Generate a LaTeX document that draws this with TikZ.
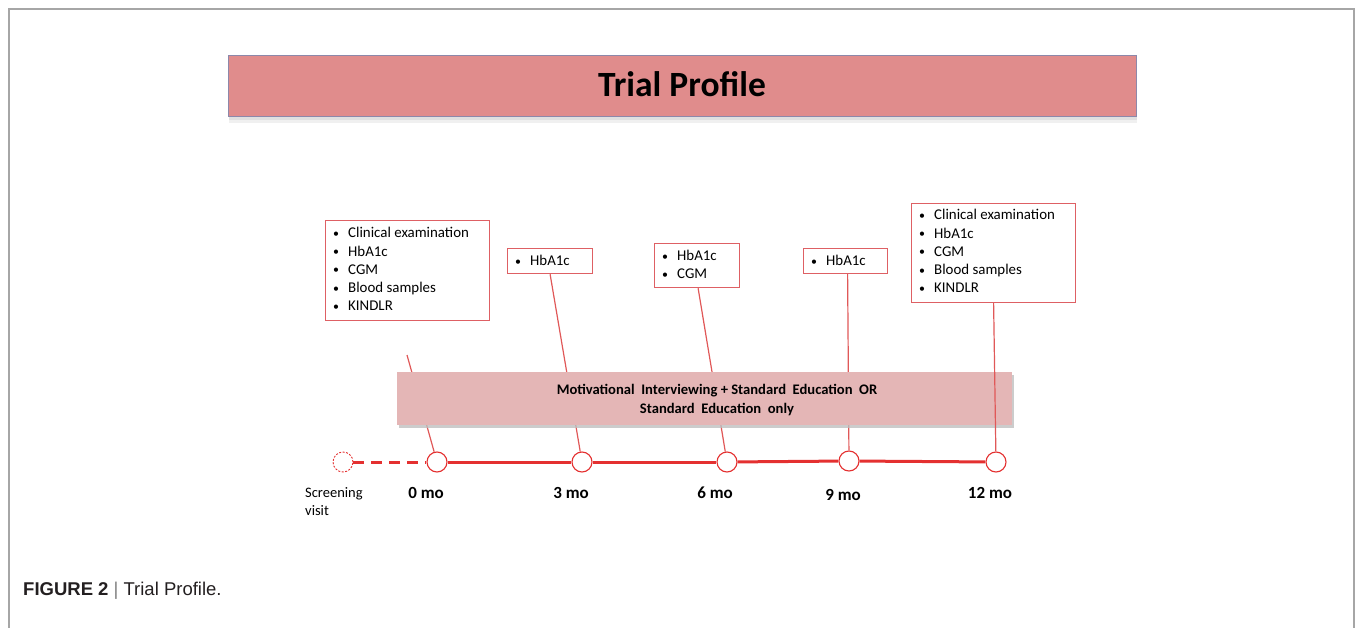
\documentclass[tikz,border=0pt]{standalone}
\usepackage{fontspec}
\usepackage{graphicx}
\setmainfont{Carlito}
\newfontfamily\capfont{Liberation Sans}
\usetikzlibrary{shadows}
\definecolor{tlred}{RGB}{228,48,48}
\definecolor{cnred}{RGB}{224,88,88}
\definecolor{bxred}{RGB}{222,96,100}
\definecolor{titlefill}{RGB}{224,140,140}
\definecolor{titleedge}{RGB}{140,136,170}
\definecolor{bandfill}{RGB}{228,182,182}
\definecolor{framegray}{RGB}{166,166,166}
\definecolor{captxt}{RGB}{35,31,32}
\newcommand{\bitem}[1]{\makebox[15pt][l]{\raisebox{0.5pt}{\scalebox{0.8}{\textbullet}}}#1}
\tikzset{
  listbox/.style={draw=bxred, line width=1.2pt, fill=white, anchor=north west, inner sep=0pt},
  listtxt/.style={anchor=base west, align=left, inner sep=0pt, font=\fontsize{14.9}{18.3}\selectfont},
  visit/.style={circle, draw=tlred, line width=1.1pt, fill=white, minimum size=20pt, inner sep=0pt},
  tline/.style={draw=tlred, line width=3pt},
  conn/.style={draw=cnred, line width=1.2pt},
  molabel/.style={anchor=base, inner sep=0pt, font=\fontsize{17}{20}\selectfont\bfseries},
}
\begin{document}
\begin{tikzpicture}[x=1pt,y=-1pt]
\useasboundingbox (0,0) rectangle (1357,628);
% frame
\draw[framegray, line width=1.5pt] (9,628) -- (9,9) -- (1354,9) -- (1354,628);
% title bar
\fill[black!12] (229,114) rectangle (1137,120);
\fill[black!6] (229,120) rectangle (1137,123);
\node[draw=titleedge, fill=titlefill, line width=1pt, minimum width=908pt, minimum height=61pt, anchor=north west, inner sep=0pt] (title) at (228,55) {};
\node[anchor=base, inner sep=0pt, font=\fontsize{35.5}{40}\selectfont\bfseries] (titletxt) at (682,97) {Trial Profile};
% boxes (base anchor = last line baseline)
\node[listbox, minimum width=164pt, minimum height=100pt] (b0) at (325,220) {};
\node[listtxt] (b0t) at (333,311) {\bitem{Clinical examination}\\\bitem{HbA1c}\\\bitem{CGM}\\\bitem{Blood samples}\\\bitem{KINDLR}};
\node[listbox, minimum width=85pt, minimum height=25pt] (b3) at (507,248) {};
\node[listtxt] (b3t) at (515,266) {\bitem{HbA1c}};
\node[listbox, minimum width=85pt, minimum height=44pt] (b6) at (654,243) {};
\node[listtxt] (b6t) at (662,279) {\bitem{HbA1c}\\\bitem{CGM}};
\node[listbox, minimum width=84pt, minimum height=25pt] (b9) at (803,248) {};
\node[listtxt] (b9t) at (811,266) {\bitem{HbA1c}};
\node[listbox, minimum width=164pt, minimum height=99pt] (b12) at (911,203) {};
\node[listtxt] (b12t) at (919,293) {\bitem{Clinical examination}\\\bitem{HbA1c}\\\bitem{CGM}\\\bitem{Blood samples}\\\bitem{KINDLR}};
% visits
\node[visit, dashed, dash pattern=on 2pt off 1.5pt, line width=0.9pt] (scr) at (343,462) {};
\node[visit] (c0) at (437,462) {};
\node[visit] (c3) at (582,462) {};
\node[visit] (c6) at (727,462) {};
\node[visit] (c9) at (849,461) {};
\node[visit] (c12) at (996,462) {};
% timeline
\draw[tline, dash pattern=on 11pt off 7pt] (scr) -- (c0);
\draw[tline] (c0) -- (c3);
\draw[tline] (c3) -- (c6);
\draw[tline] (c6) -- (c9);
\draw[tline] (c9) -- (c12);
% connectors behind band
\coordinate (s0) at (407,355);
\draw[conn] (s0) -- (c0);
\draw[conn] (b3.south) -- (c3);
\draw[conn] ([xshift=1pt]b6.south) -- (c6);
\draw[conn] ([xshift=2pt]b9.south) -- (c9);
% band
\node[fill=bandfill, minimum width=615pt, minimum height=53pt, anchor=north west, inner sep=0pt,
  drop shadow={shadow xshift=2pt, shadow yshift=-3pt, fill=black!25, opacity=0.8}] (band) at (397,372) {};
\node[anchor=base, align=center, inner sep=0pt, font=\fontsize{14.6}{19}\selectfont\bfseries] (bandtxt) at (717,413)
  {Motivational\ \ Interviewing + Standard\ \ Education\ \ OR\\Standard\ \ Education\ \ only};
% connector over band
\draw[conn] (b12.south) -- (c12);
% labels
\node[anchor=base west, align=left, inner sep=0pt, font=\fontsize{14.5}{18}\selectfont] (scrtxt) at (305,515) {Screening\\visit};
\node[molabel] (l0) at (426,498) {0 mo};
\node[molabel] (l3) at (571,498) {3 mo};
\node[molabel] (l6) at (715,498) {6 mo};
\node[molabel] (l9) at (843,500) {9 mo};
\node[molabel] (l12) at (990,498) {12 mo};
% caption
\node[anchor=base west, inner sep=0pt, font=\capfont\fontsize{18.5}{20}\selectfont, text=captxt] (cap) at (23,595)
  {\textbf{FIGURE 2}\ \textcolor{black!50}{|}\ Trial Profile.};
\end{tikzpicture}
\end{document}
